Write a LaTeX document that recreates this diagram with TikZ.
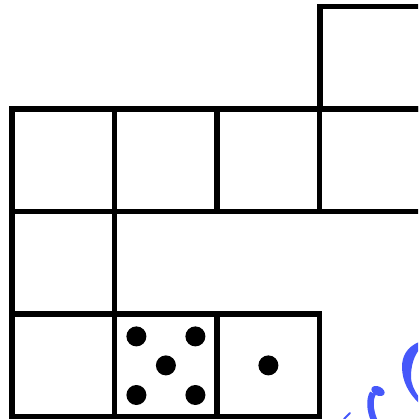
\documentclass[tikz,border=0pt]{standalone}
\definecolor{inkblue}{RGB}{70,88,250}
\tikzset{
  cell/.style={draw=black, line width=5.5pt, minimum size=102.55pt, inner sep=0pt, outer sep=0pt, shape=rectangle},
  pip/.style={circle, fill=black, minimum size=20pt, inner sep=0pt},
  ink/.style={fill=inkblue, draw=none},
}
\begin{document}
\begin{tikzpicture}[x=1pt,y=-1pt]
\useasboundingbox (0,0) rectangle (418,419);
\fill[white] (0,0) rectangle (418,419);
\clip (0,0) rectangle (418,419);
% row 0
\node[cell] (c03) at (371.2,57.8) {};
% row 1
\node[cell] (c10) at (63.3,160.3) {};
\node[cell] (c11) at (165.9,160.3) {};
\node[cell] (c12) at (268.4,160.3) {};
\node[cell] (c13) at (371.0,160.3) {};
% row 2
\node[cell] (c20) at (63.3,262.9) {};
% row 3
\node[cell] (c30) at (63.3,365.4) {};
\node[cell] (c31) at (165.9,365.4) {};
\node[cell] (c32) at (268.4,365.4) {};
% five pips
\node[pip] (p1) at (136.4,336.4) {};
\node[pip] (p2) at (195.4,336.4) {};
\node[pip] (p3) at (165.9,365.4) {};
\node[pip] (p4) at (136.4,395.0) {};
\node[pip] (p5) at (195.4,395.0) {};
% one pip
\node[pip] (q1) at (268.4,365.4) {};
% blue ink fragments
\fill[ink] (419,342) .. controls (407,347) and (402,356) .. (402,367)
  .. controls (402,381) and (409,394) .. (419,403)
  -- (419,397) .. controls (414,390) and (411,384) .. (411,376)
  .. controls (411,366) and (414,356) .. (419,350) -- cycle;
\fill[ink, rotate around={-25:(378,391)}] (378,391) ellipse (7 and 4.5);
\draw[inkblue, line width=6.5pt] (373,393) .. controls (369,400) and (370,410) .. (374,420);
\draw[inkblue, line width=2pt, line cap=round] (344,419) -- (350,413);
\end{tikzpicture}
\end{document}
